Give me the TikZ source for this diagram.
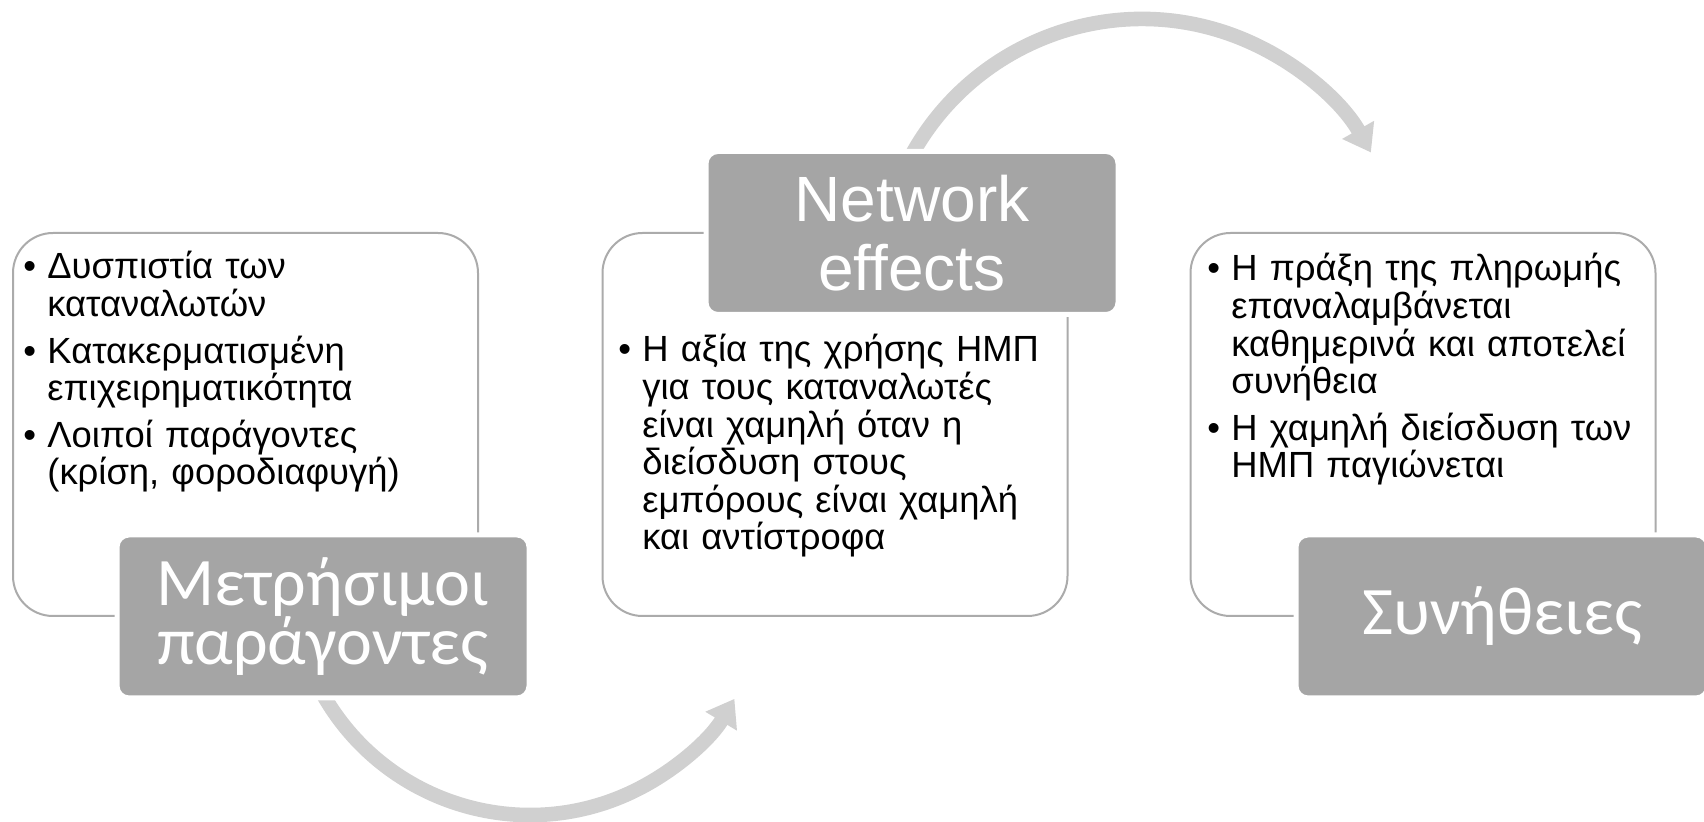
\documentclass[tikz,border=0pt]{standalone}
\usepackage{fontspec}
\setmainfont{Liberation Sans}
\newfontfamily\lblfont{Carlito}
\usetikzlibrary{arrows.meta}
\definecolor{lblgray}{HTML}{A5A5A5}
\definecolor{boxline}{HTML}{ABABAB}
\definecolor{arrowgray}{HTML}{D0D0D0}
\newcommand\bstart[1]{\makebox[12pt][l]{•}#1}
\newcommand\bfirst[1]{\par\makebox[12pt][l]{•}#1}
\newcommand\bcont[1]{\par\hspace*{12pt}#1}
\newcommand\bgap{\par\vspace{4.5pt}}
\begin{document}
\begin{tikzpicture}[x=0.5pt,y=0.5pt,
  panel/.style={draw=boxline, line width=1pt, fill=white, rounded corners=20pt,
    minimum width=232.5pt, minimum height=191.5pt, inner sep=0pt},
  lbl/.style={draw=white, line width=2.5pt, fill=lblgray, rounded corners=6pt,
    minimum width=206pt, minimum height=81.5pt, inner sep=0pt, text=white, align=center},
  greeklbl/.style={lbl, font=\lblfont\fontsize{34pt}{29.5pt}\selectfont},
  englbl/.style={lbl, font=\fontsize{32pt}{34.5pt}\selectfont},
  bullets/.style={anchor=base west, inner sep=0pt,
    font=\fontsize{18.2pt}{18.8pt}\selectfont},
  cyc/.style={draw=arrowgray, line width=7.3pt, -{Triangle[length=13pt,width=17.5pt]}}
]
\useasboundingbox (0,0) rectangle (1704,-822);

% panels
\node[panel] (p1) at (245.5,-424.5) {};
\node[panel] (p2) at (835,-424.5) {};
\node[panel] (p3) at (1423,-424.5) {};

% bullet texts
\node[bullets, text width=205pt] (t1) at (23,-279) {%
  \bstart{Δυσπιστία των}\bcont{καταναλωτών}\bgap
  \bfirst{Κατακερματισμένη}\bcont{επιχειρηματικότητα}\bgap
  \bfirst{Λοιποί παράγοντες}\bcont{(κρίση, φοροδιαφυγή)}};
\node[bullets, text width=222pt] (t2) at (618,-362) {%
  \bstart{Η αξία της χρήσης ΗΜΠ}\bcont{για τους καταναλωτές}\bcont{είναι χαμηλή όταν η}%
  \bcont{διείσδυση στους}\bcont{εμπόρους είναι χαμηλή}\bcont{και αντίστροφα}};
\node[bullets, text width=222pt] (t3) at (1207,-281) {%
  \bstart{Η πράξη της πληρωμής}\bcont{επαναλαμβάνεται}\bcont{καθημερινά και αποτελεί}%
  \bcont{συνήθεια}\bgap
  \bfirst{Η χαμηλή διείσδυση των}\bcont{ΗΜΠ παγιώνεται}};

% circular arrows
\coordinate (c1) at (530,-577);
\coordinate (c2) at (1142,-282);
\draw[cyc] ([shift={(206:119pt)}]c1) arc[start angle=206, end angle=329.2, radius=119pt];
\draw[cyc] ([shift={(158:131.5pt)}]c2) arc[start angle=158, end angle=29.5, radius=131.5pt];

% labels
\node[greeklbl] (l1) at (323,-616.5) {Μετρήσιμοι\\παράγοντες};
\node[englbl] (l2) at (912,-233) {Network\\effects};
\node[greeklbl] (l3) at (1502,-616.5) {Συνήθειες};
\end{tikzpicture}
\end{document}
